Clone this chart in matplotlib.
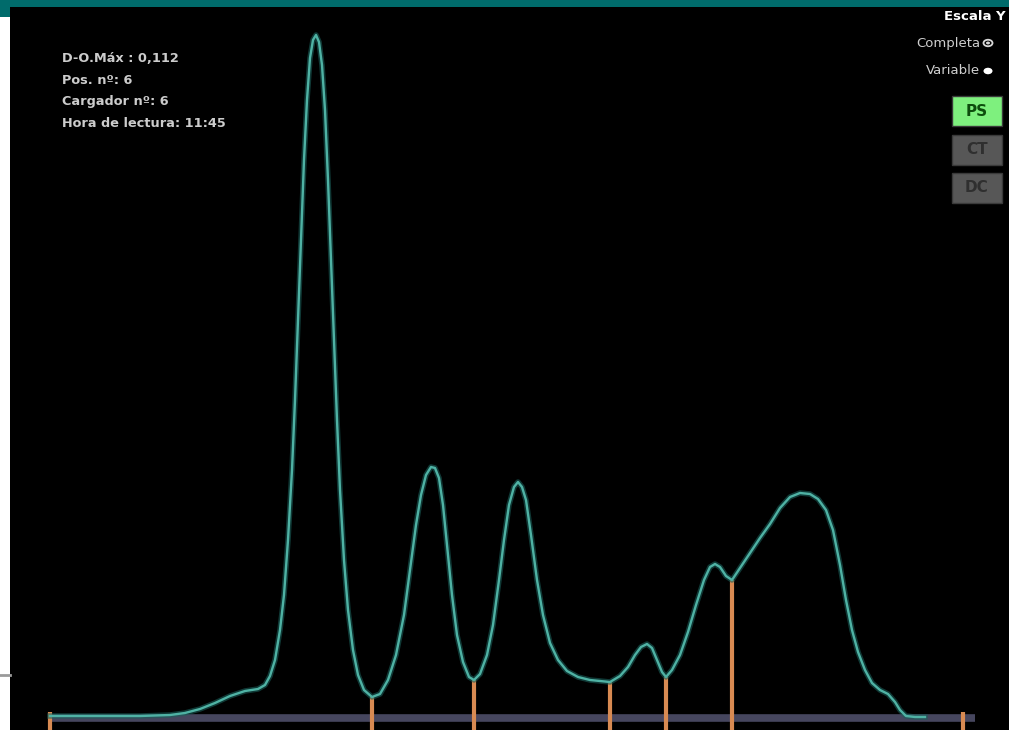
import matplotlib
matplotlib.use("Agg")
import matplotlib.pyplot as plt
from matplotlib.patches import Rectangle

# ---- data ----
mobility = [50, 80, 110, 140, 170, 185, 200, 215, 230, 245, 258, 265, 270, 275, 280, 284, 288, 292,
            295, 298, 301, 304, 307, 310, 313, 316, 319, 322, 325, 328, 331, 334, 337, 340, 344, 348,
            353, 358, 364, 372, 380, 388, 396, 404, 410, 416, 421, 426, 431, 435, 439, 443, 447, 452,
            457, 463, 469, 474, 480, 487, 493, 499, 504, 509, 514, 518, 522, 526, 531, 537, 543, 550,
            558, 567, 578, 590, 600, 610, 620, 628, 635, 641, 647, 652, 657, 662, 666, 672, 680, 688,
            696, 704, 710, 715, 720, 726, 732, 740, 750, 760, 770, 780, 790, 800, 810, 818, 826, 833,
            840, 846, 852, 858, 865, 872, 880, 888, 895, 900, 906, 915, 925]
trace_ypix = [716, 716, 716, 716, 715, 713, 709, 703, 696, 691, 689, 685, 676, 660, 630, 595, 540, 470,
              400, 320, 240, 160, 100, 58, 40, 35, 42, 65, 110, 180, 260, 340, 420, 490, 560, 610,
              650, 675, 690, 697, 694, 680, 655, 615, 570, 525, 495, 475, 467, 468, 478, 505, 545, 595,
              635, 662, 677, 680, 674, 655, 625, 580, 540, 505, 487, 482, 487, 500, 535, 580, 615, 643,
              660, 671, 677, 680, 681, 682, 676, 667, 655, 647, 644, 648, 660, 672, 677, 670, 655, 632,
              605, 580, 567, 564, 567, 576, 580, 568, 553, 538, 524, 508, 497, 493, 494, 499, 510, 530,
              565, 600, 630, 652, 670, 683, 690, 694, 702, 710, 716, 717, 717]
BASE = 718
density = [BASE - v for v in trace_ypix]

fraction_x = [50, 372, 474, 610, 666, 732, 963]
fraction_h = [6, 21, 38, 36, 41, 138, 6]

info_lines = ["D-O.Máx : 0,112", "Pos. nº: 6", "Cargador nº: 6", "Hora de lectura: 11:45"]
buttons = ["PS", "CT", "DC"]

# ---- figure ----
W, H = 1009, 730
fig = plt.figure(figsize=(W / 100, H / 100), dpi=100, facecolor="white")

def fx(x):
    return x / W

def fy(y):
    return 1 - y / H

# teal header band and left strip
fig.patches.append(Rectangle((0, fy(7)), 1, 7 / H, transform=fig.transFigure,
                             facecolor="#006b6b", edgecolor="none", zorder=0))
fig.patches.append(Rectangle((0, fy(17)), fx(10), 17 / H, transform=fig.transFigure,
                             facecolor="#006b6b", edgecolor="none", zorder=0))
fig.lines.append(plt.Line2D([0, fx(10)], [fy(675), fy(675)], transform=fig.transFigure,
                            color="#9a9a9a", lw=2))

ax = fig.add_axes([fx(10), 0, 1 - fx(10), 1 - 7 / H])
ax.set_facecolor("black")
ax.set_xlim(10, 1009)
ax.set_ylim(BASE - 730, BASE - 7)
ax.axis("off")
ax.add_patch(Rectangle((0, 0), 1, 1, transform=ax.transAxes, facecolor="black",
                       edgecolor="none", zorder=0))

# baseline
ax.plot([50, 975], [0, 0], color="#46465e", lw=5.5, solid_capstyle="butt", zorder=1)

# fraction separators
ax.vlines(fraction_x, BASE - 730, fraction_h, colors="#d88a52", lw=3, zorder=2)

# trace
ax.plot(mobility, density, color="#1a5f5a", lw=4, alpha=0.6, zorder=3,
        solid_joinstyle="round")
ax.plot(mobility, density, color="#4fb2a4", lw=1.7, zorder=4, solid_joinstyle="round")

# info text
for i, t in enumerate(info_lines):
    fig.text(fx(62), fy(59 + i * 21.5), t, color="#cccccc", fontsize=9.3, fontweight="bold",
             ha="left", va="center", family="DejaVu Sans")

# right-hand controls
fig.text(fx(1006), fy(17), "Escala Y", color="white", fontsize=9.5, fontweight="bold",
         ha="right", va="center")
fig.text(fx(980), fy(43), "Completa", color="#cfcfcf", fontsize=9.5, ha="right", va="center")
fig.text(fx(980), fy(71), "Variable", color="#cfcfcf", fontsize=9.5, ha="right", va="center")
fig.patches.append(plt.Circle((fx(988), fy(43)), 4.5 / W, transform=fig.transFigure,
                              facecolor="none", edgecolor="#d8d8d8", lw=1.3))
fig.patches.append(plt.Circle((fx(988), fy(43)), 2 / W, transform=fig.transFigure,
                              facecolor="#d8d8d8", edgecolor="none"))
fig.patches.append(plt.Circle((fx(988), fy(71)), 4.5 / W, transform=fig.transFigure,
                              facecolor="white", edgecolor="none"))

btn_tops = [96, 135, 173]
btn_face = ["#7ef07e", "#575757", "#575757"]
btn_text = ["#0d4d0d", "#2f2f2f", "#2f2f2f"]
for name, top, fc, tc in zip(buttons, btn_tops, btn_face, btn_text):
    h = 30
    fig.patches.append(Rectangle((fx(952), fy(top + h)), 50 / W, h / H,
                                 transform=fig.transFigure, facecolor=fc, edgecolor="#3a3a3a",
                                 lw=1))
    fig.text(fx(977), fy(top + h / 2), name, color=tc, fontsize=11, fontweight="bold",
             ha="center", va="center")

fig.savefig("out.png", dpi=100, facecolor=fig.get_facecolor())
